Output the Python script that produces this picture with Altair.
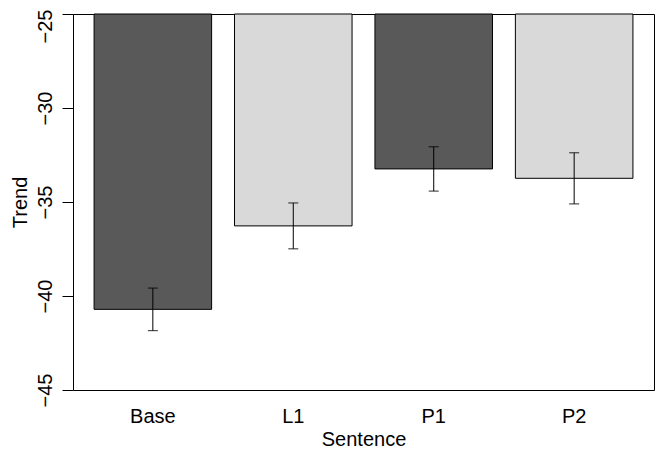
import altair as alt
import pandas as pd

sentences = ["Base", "L1", "P1", "P2"]
means = [-40.71, -36.27, -33.24, -33.74]
ses = [1.13, 1.22, 1.18, 1.36]
y_ticks = [-45, -40, -35, -30, -25]

palette = ["#595959", "#d9d9d9", "#595959", "#d9d9d9"]
FONT = "Liberation Sans"

df = pd.DataFrame({"Sentence": sentences, "Trend": means, "se": ses})
df["top"] = -25

x_enc = alt.X(
    "Sentence:N",
    sort=sentences,
    scale=alt.Scale(paddingInner=0.163, paddingOuter=0.15),
    axis=alt.Axis(
        title="Sentence",
        labelAngle=0,
        ticks=False,
        tickSize=0,
        domain=False,
        labelBaseline="alphabetic",
        labelPadding=32,
        titleY=55,
        titleBaseline="alphabetic",
    ),
)

y_scale = alt.Scale(domain=[-45, -25], nice=False, zero=False)

bars = alt.Chart(df).mark_bar(stroke="black", strokeWidth=1).encode(
    x=x_enc,
    y=alt.Y(
        "Trend:Q",
        scale=y_scale,
        axis=alt.Axis(
            title="Trend",
            values=y_ticks,
            format="d",
            domain=False,
            grid=False,
            ticks=True,
            tickSize=11,
            tickColor="black",
            tickWidth=1,
            labelAngle=270,
            labelAlign="center",
            labelBaseline="alphabetic",
            labelPadding=11,
            labelOffset={"condition": {"test": "datum.value == -25", "value": 12}, "value": 0},
            titleAngle=270,
            titleX=-47,
            titleBaseline="alphabetic",
            titleAlign="center",
        ),
    ),
    y2="top:Q",
    color=alt.Color("Sentence:N", scale=alt.Scale(domain=sentences, range=palette), legend=None),
)

err_base = alt.Chart(df).transform_calculate(
    lo="datum.Trend - datum.se", hi="datum.Trend + datum.se"
)

rules = err_base.mark_rule(color="black", strokeWidth=1).encode(
    x=alt.X("Sentence:N", sort=sentences),
    y=alt.Y("lo:Q", scale=y_scale),
    y2="hi:Q",
)

caps_lo = err_base.mark_tick(color="black", size=10, thickness=1.2).encode(
    x=alt.X("Sentence:N", sort=sentences),
    y=alt.Y("lo:Q", scale=y_scale),
)
caps_hi = err_base.mark_tick(color="black", size=10, thickness=1.2).encode(
    x=alt.X("Sentence:N", sort=sentences),
    y=alt.Y("hi:Q", scale=y_scale),
)

chart = (
    alt.layer(bars, rules, caps_lo, caps_hi)
    .properties(
        width=581,
        height=376,
        background="white",
        autosize=alt.AutoSizeParams(type="none"),
        padding={"left": 65, "top": 6, "right": 1, "bottom": 59},
    )
    .configure_view(stroke="black", strokeWidth=1)
    .configure_axis(
        labelFont=FONT,
        titleFont=FONT,
        labelFontSize=20,
        titleFontSize=20,
        labelColor="black",
        titleColor="black",
        titleFontWeight="normal",
    )
)

chart.save("out.html", embed_options={"renderer": "svg", "actions": False})
